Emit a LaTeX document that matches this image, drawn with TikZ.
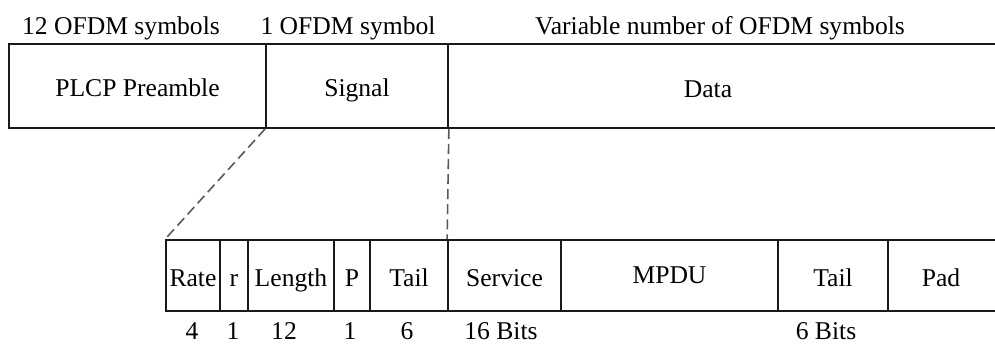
\documentclass[tikz,border=0pt]{standalone}
\usepackage{fontspec}
\setmainfont{Liberation Serif}
\usetikzlibrary{fit}

\tikzset{
  frame/.style={line width=1.3pt, draw=black!90},
  % zero-height text box: its centre is the baseline, moved below the cell centre
  celltext/.style={inner sep=0pt, text height=0pt, text depth=0pt, yshift=-8.2pt},
  cell/.style={frame, rectangle, inner sep=0pt},
  opencell/.style={rectangle, inner sep=0pt},
  caption/.style={inner sep=0pt, anchor=base},
  zoomline/.style={draw=black!65, line width=1.2pt, dash pattern=on 7.5pt off 3.8pt},
}

\begin{document}
\begin{tikzpicture}[x=0.75pt, y=-0.75pt, font=\rmfamily\fontsize{19.2}{23}\selectfont]
\useasboundingbox (0,0) rectangle (995,344);

% upper frame: preamble, signal, data
\node[cell, fit={(9,44) (266,128)}, label={[celltext]center:PLCP Preamble}] (pre) {};
\node[cell, fit={(266,44) (448,128)}, label={[celltext]center:Signal}] (sig) {};
\node[opencell, fit={(448,44) (1000,128)}] (data) {};
\node[caption] (datatext) at (708,97) {Data};
\draw[frame] (data.north west) -- (data.north east);
\draw[frame] (data.south west) -- (data.south east);

% sizes above the upper frame
\node[caption] (npre)  at (121,34) {12 OFDM symbols};
\node[caption] (nsig)  at (348,34) {1 OFDM symbol};
\node[caption] (ndata) at (720,34) {Variable number of OFDM symbols};

% lower frame: signal fields and data fields
\node[cell, fit={(166,240) (220,311)}, label={[celltext]center:Rate}] (rate) {};
\node[cell, fit={(220,240) (248,311)}, label={[celltext]center:r}] (res) {};
\node[cell, fit={(248,240) (334,311)}, label={[celltext]center:Length}] (len) {};
\node[cell, fit={(334,240) (370,311)}, label={[celltext]center:P}] (par) {};
\node[cell, fit={(370,240) (448,311)}, label={[celltext]center:Tail}] (stail) {};
\node[cell, fit={(448,240) (561,311)}, label={[celltext]center:Service}] (serv) {};
\node[cell, fit={(561,240) (778,311)}, label={[celltext, yshift=2.3pt]center:MPDU}] (mpdu) {};
\node[cell, fit={(778,240) (888,311)}, label={[celltext]center:Tail}] (dtail) {};
\node[opencell, fit={(888,240) (1000,311)}] (pad) {};
\node[caption] (padtext) at (941,286.5) {Pad};
\draw[frame] (pad.north west) -- (pad.north east);
\draw[frame] (pad.south west) -- (pad.south east);

% field widths in bits
\node[caption] (brate)  at (192,339) {4};
\node[caption] (bres)   at (233,339) {1};
\node[caption] (blen)   at (284,339) {12};
\node[caption] (bpar)   at (350,339) {1};
\node[caption] (btail)  at (407,339) {6};
\node[caption] (bserv)  at (501,339) {16 Bits};
\node[caption] (bdtail) at (826,339) {6 Bits};

% expansion of the signal and data fields
\draw[zoomline] (sig.south west) -- (rate.north west);
\draw[zoomline] (sig.south east) -- (serv.north west);
\end{tikzpicture}
\end{document}
